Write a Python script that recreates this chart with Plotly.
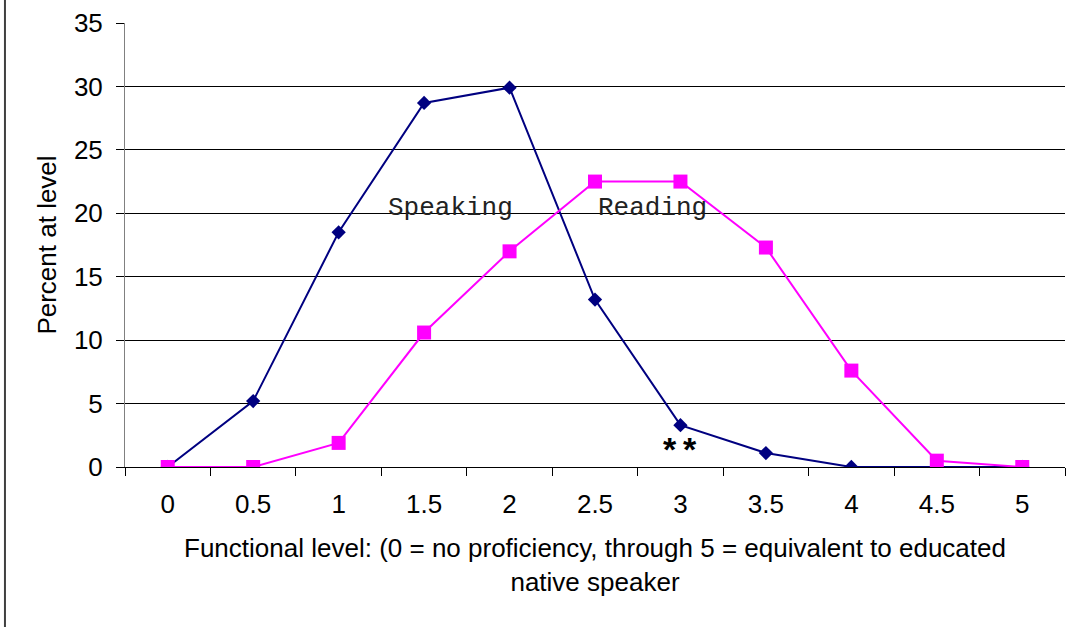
import plotly.graph_objects as go

levels = ["0", "0.5", "1", "1.5", "2", "2.5", "3", "3.5", "4", "4.5", "5"]
speaking = [0, 5.2, 18.5, 28.7, 29.9, 13.2, 3.3, 1.1, 0, 0, 0]
reading = [0, 0, 1.9, 10.6, 17.0, 22.5, 22.5, 17.3, 7.6, 0.5, 0]

fig = go.Figure()
fig.add_trace(go.Scatter(
    x=levels, y=speaking, mode="lines+markers", name="Speaking",
    line=dict(color="#000080", width=2),
    marker=dict(symbol="diamond", size=11, color="#000080"),
))
fig.add_trace(go.Scatter(
    x=levels, y=reading, mode="lines+markers", name="Reading",
    line=dict(color="#FF00FF", width=2),
    marker=dict(symbol="square", size=14, color="#FF00FF"),
))

mono = "Liberation Mono, Courier New, monospace"
fig.add_annotation(x=3.31, y=20.4, xref="x", yref="y", text="Speaking", showarrow=False,
                   font=dict(family=mono, size=26, color="#222222"))
fig.add_annotation(x=5.67, y=20.4, xref="x", yref="y", text="Reading", showarrow=False,
                   font=dict(family=mono, size=26, color="#222222"))
fig.add_annotation(x=6, y=1.4, xref="x", yref="y", text="<b>*\u2009*</b>", showarrow=False,
                   font=dict(family="Liberation Sans, Arial", size=34, color="black"))

fig.add_shape(type="line", xref="paper", yref="paper", x0=-0.1277, x1=-0.1277, y0=-0.5, y1=1.2,
              line=dict(color="#404040", width=2))

fig.update_layout(
    width=1072, height=627,
    margin=dict(l=125, r=7, t=23, b=160),
    paper_bgcolor="white", plot_bgcolor="white",
    showlegend=False,
    font=dict(family="Liberation Sans, Arial", size=26, color="black"),
    xaxis=dict(
        type="category", range=[-0.5, 10.5], tickson="boundaries", ticks="outside", ticklen=8,
        tickcolor="black", showline=True, linecolor="black", linewidth=1,
        showgrid=False, tickfont=dict(size=26), ticklabelstandoff=14,
        title=dict(text="Functional level: (0 = no proficiency, through 5 = equivalent to educated<br>native speaker",
                   font=dict(size=26), standoff=20),
    ),
    yaxis=dict(
        range=[0, 35], dtick=5, ticks="outside", ticklen=8, tickcolor="black",
        showgrid=True, gridcolor="black", gridwidth=1,
        showline=True, linecolor="#808080", linewidth=1, zeroline=False,
        tickfont=dict(size=26), ticklabelstandoff=8,
        title=dict(text="Percent at level", font=dict(size=26), standoff=9),
    ),
)

fig.write_html("out.html")
